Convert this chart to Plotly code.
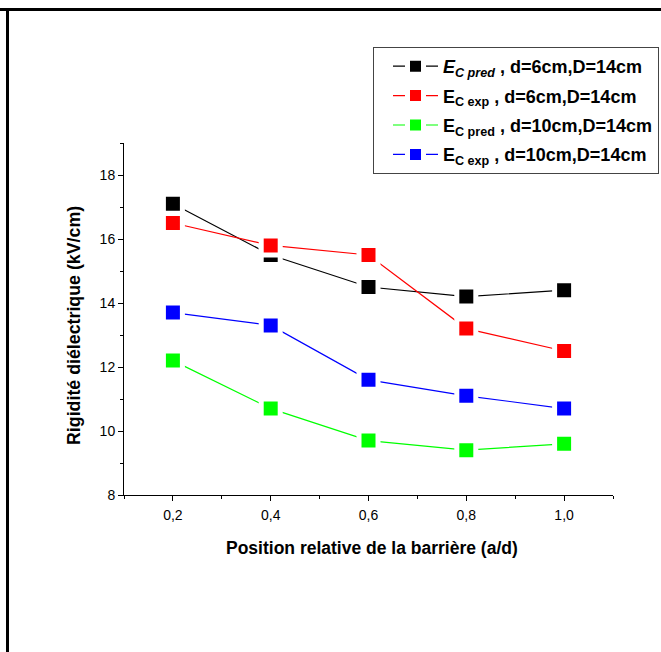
import plotly.graph_objects as go

x_pos = [0.2, 0.4, 0.6, 0.8, 1.0]
ec_pred_d6 = [17.1, 15.5, 14.5, 14.2, 14.4]
ec_exp_d6 = [16.5, 15.8, 15.5, 13.2, 12.5]
ec_pred_d10 = [12.2, 10.7, 9.7, 9.4, 9.6]
ec_exp_d10 = [13.7, 13.3, 11.6, 11.1, 10.7]

names = [
    "<b><i>E<sub>C pred</sub></i> , d=6cm,D=14cm</b>",
    "<b>E<sub>C exp</sub> , d=6cm,D=14cm</b>",
    "<b>E<sub>C pred</sub> , d=10cm,D=14cm</b>",
    "<b>E<sub>C exp</sub> , d=10cm,D=14cm</b>",
]
series = [ec_pred_d6, ec_exp_d6, ec_pred_d10, ec_exp_d10]
colors = ["#000000", "#FF0000", "#00FF00", "#0000FF"]

W, H = 661, 652
L, T = 124, 143
R = W - 613
B = H - 495
pw = W - L - R
ph = H - T - B

def px2x(px):
    return (px - L) / pw

def py2y(py):
    return (H - B - py) / ph

fig = go.Figure()
for i, (nm, ys, c) in enumerate(zip(names, series, colors)):
    fig.add_trace(go.Scatter(
        x=x_pos, y=ys, name=nm, mode="lines+markers", legendgroup=f"g{i}",
        line=dict(color=c, width=1.2),
        marker=dict(symbol="square", size=19, color=c, line=dict(color="white", width=5)),
    ))

font_family = "Arial, 'Liberation Sans', sans-serif"

fig.update_layout(
    width=W, height=H,
    margin=dict(l=L, r=R, t=T, b=B, autoexpand=False),
    paper_bgcolor="white", plot_bgcolor="white",
    separators=",.",
    font=dict(family=font_family, color="black", size=14),
    showlegend=True,
    legend=dict(
        x=px2x(373), y=py2y(47), xanchor="left", yanchor="top",
        bordercolor="#444", borderwidth=1, bgcolor="white",
        font=dict(size=18, family=font_family, color="black"),
        itemwidth=45, tracegroupgap=3, traceorder="grouped",
        indentation=14,
    ),
    xaxis=dict(
        range=[0.1, 1.1], tickvals=x_pos, tickformat=".1f",
        showline=True, linecolor="black", linewidth=1,
        ticks="outside", ticklen=5, tickcolor="black",
        minor=dict(tickvals=[0.1, 0.3, 0.5, 0.7, 0.9, 1.1], ticks="outside", ticklen=3, tickcolor="black"),
        showgrid=False, zeroline=False,
        tickfont=dict(size=14), ticklabelstandoff=2,
    ),
    yaxis=dict(
        range=[8, 19], tickvals=[8, 10, 12, 14, 16, 18],
        showline=True, linecolor="black", linewidth=1,
        ticks="outside", ticklen=5, tickcolor="black",
        minor=dict(tickvals=[9, 11, 13, 15, 17, 19], ticks="outside", ticklen=3, tickcolor="black"),
        showgrid=False, zeroline=False,
        tickfont=dict(size=14),
    ),
    annotations=[
        dict(text="<b>Position relative de la barrière (a/d)</b>", xref="paper", yref="paper",
             x=px2x(372), y=py2y(548), xanchor="center", yanchor="middle", showarrow=False,
             font=dict(size=17.5)),
        dict(text="<b>Rigidité diélectrique (kV/cm)</b>", xref="paper", yref="paper",
             x=px2x(74), y=py2y(326), xanchor="center", yanchor="middle", showarrow=False,
             textangle=-90, font=dict(size=17.8)),
    ],
    shapes=[
        dict(type="rect", xref="paper", yref="paper", x0=px2x(0), x1=px2x(661), y0=py2y(11), y1=py2y(8),
             fillcolor="black", line=dict(width=0), layer="above"),
        dict(type="rect", xref="paper", yref="paper", x0=px2x(6), x1=px2x(9), y0=py2y(8), y1=py2y(652),
             fillcolor="black", line=dict(width=0), layer="above"),
    ],
)

fig.write_html(
    "out.html",
    config={"displayModeBar": False},
    post_script="document.body.style.margin='0';document.body.style.overflow='hidden';",
)
